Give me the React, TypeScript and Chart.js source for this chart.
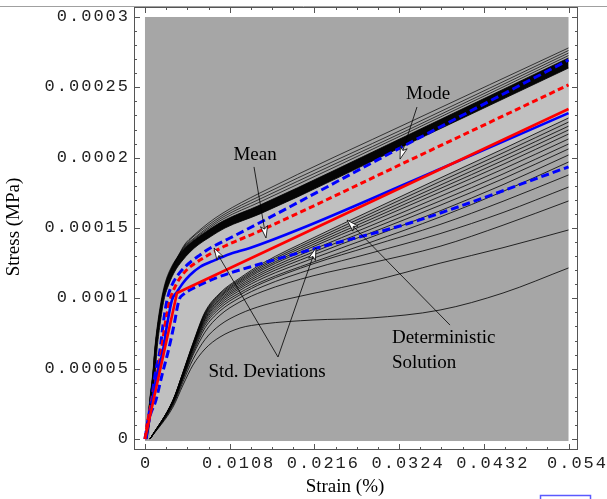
import React, { useEffect, useRef } from "react";
import { Chart, registerables } from "chart.js";

Chart.register(...registerables);

// ---------- axes ----------
const X_MIN = -0.0014;
const X_MAX = 0.05521;
const Y_MIN = -0.0000078;
const Y_MAX = 0.0003071;

const X_TICKS = [0, 0.0108, 0.0216, 0.0324, 0.0432, 0.054];
const X_TICK_LABELS = ["0", "0.0108", "0.0216", "0.0324", "0.0432", "0.054"];
const Y_TICKS = [0, 0.00005, 0.0001, 0.00015, 0.0002, 0.00025, 0.0003];
const Y_TICK_LABELS = ["0", "0.00005", "0.0001", "0.00015", "0.0002", "0.00025", "0.0003"];
const X_MINOR = 3;
const Y_MINOR = 4;
const X_TITLE = "Strain (%)";
const Y_TITLE = "Stress (MPa)";

// ---------- data (strain in 1e-3, stress in 1e-6 MPa) ----------
const DET_STRAIN = [0, 4.08, 54];
const DET_STRESS = [0, 103.8, 234.6];

const MEAN_STRAIN = [0, 0.38, 0.96, 1.53, 2.3, 2.81, 3.44, 4.08, 4.85, 5.74, 7.01, 8.93, 10.84, 13.39, 19.76, 33.79, 54];
const MEAN_STRESS = [0, 8.5, 27.7, 45.5, 63.3, 81.0, 98.8, 104.5, 110.9, 116.6, 122.3, 127.2, 131.5, 135.8, 149.3, 182.7, 231.7];

const MODE_STRAIN = [0, 0.38, 0.89, 1.53, 2.1, 2.55, 3.19, 3.95, 4.85, 5.74, 7.01, 8.29, 10.2, 14.03, 33.79, 54];
const MODE_STRESS = [0, 13.5, 27.7, 45.5, 63.3, 81.0, 98.8, 109.5, 117.3, 122.3, 127.2, 131.5, 137.2, 146.4, 198.3, 251.7];

const SD_UP_STRAIN = [0, 0.38, 0.83, 1.28, 1.91, 2.3, 2.81, 3.44, 4.21, 5.1, 6.12, 7.01, 7.91, 8.93, 10.84, 15.05, 32.52, 54];
const SD_UP_STRESS = [0, 13.5, 27.7, 45.5, 63.3, 81.0, 98.8, 109.5, 116.6, 122.3, 127.2, 130.8, 134.4, 137.6, 142.9, 155.0, 206.9, 269.4];

const SD_LO_STRAIN = [0.13, 0.51, 1.4, 2.17, 3.0, 3.7, 4.34, 4.97, 5.74, 7.01, 8.67, 10.84, 13.39, 15.05, 21.93, 33.79, 54];
const SD_LO_STRESS = [0, 13.5, 27.7, 45.5, 63.3, 81.0, 98.8, 103.1, 105.9, 109.5, 113.7, 118.0, 122.3, 125.1, 135.8, 153.6, 193.4];

// upper (dense) bundle of sample curves
const TOP_STRAIN = [0, 0.38, 0.64, 1.02, 1.28, 1.66, 2.17, 2.68, 3.44, 4.21, 5.1, 6.12, 7.91, 9.95, 14.66, 33.79, 54];
const BUNDLE_TOP = [0, 13.5, 27.7, 45.5, 63.3, 81.0, 98.8, 110.9, 121.6, 129.4, 135.8, 140.8, 147.9, 155.0, 166.3, 216.8, 270.9];
const FRINGE_1 = [0, 14.5, 29.5, 48.0, 66.0, 84.0, 101.5, 113.0, 123.0, 130.1, 138.6, 144.3, 152.8, 160.7, 174.9, 225.4, 278.0];
const FRINGE_2 = [0, 14.0, 28.6, 46.8, 64.6, 82.5, 100.0, 112.0, 122.3, 129.7, 137.9, 143.6, 151.4, 159.2, 172.7, 222.5, 276.2];
const FRINGE_3 = [0, 13.5, 27.7, 45.5, 63.3, 81.0, 98.8, 110.9, 121.6, 129.5, 137.2, 142.2, 150.0, 157.8, 170.6, 220.4, 274.4];
const FRINGE_4 = [0, 13.5, 27.7, 45.5, 63.3, 81.0, 98.8, 110.9, 121.6, 129.4, 136.5, 141.5, 148.9, 156.4, 168.5, 218.6, 272.6];

const BUNDLE_BOT_STRAIN = [0.26, 0.64, 0.89, 1.28, 1.53, 1.91, 2.42, 3.06, 3.83, 4.72, 5.74, 6.76, 8.29, 10.2, 14.66, 33.79, 54];
const BUNDLE_BOT = [0, 13.5, 27.7, 45.5, 63.3, 81.0, 98.8, 110.2, 119.4, 126.5, 132.9, 137.9, 143.6, 150.0, 160.0, 210.4, 263.7];

// lower (spread) sample curves
const LOW_STRAIN = [0.64, 3.57, 4.85, 6.12, 7.65, 9.56, 12.11, 15.05, 21.42, 28.69, 37.62, 45.65, 54];
const LOW_01 = [0, 27.7, 47.6, 68.2, 90.3, 103.8, 114.5, 125.1, 142.9, 162.1, 185.5, 206.2, 228.2];
const LOW_02 = [0, 27.6, 47.4, 67.8, 89.6, 103.0, 113.5, 123.9, 141.3, 160.0, 183.0, 203.4, 225.3];
const LOW_03 = [0, 27.4, 47.1, 67.4, 88.9, 102.1, 112.6, 122.8, 139.8, 158.0, 180.4, 200.7, 222.4];
const LOW_04 = [0, 27.3, 46.9, 66.9, 88.2, 101.3, 111.7, 121.6, 138.2, 156.0, 178.0, 198.0, 219.7];
const LOW_05 = [0, 27.2, 46.6, 66.5, 87.5, 100.5, 110.7, 120.5, 136.7, 154.0, 175.5, 195.2, 216.8];
const LOW_06 = [0, 27.0, 46.3, 66.0, 86.6, 99.4, 109.5, 119.0, 134.7, 151.4, 172.4, 191.9, 213.3];
const LOW_07 = [0, 26.8, 46.0, 65.5, 85.7, 98.4, 108.3, 117.6, 132.8, 148.9, 169.2, 188.4, 209.7];
const LOW_08 = [0, 26.7, 45.7, 65.0, 84.9, 97.3, 107.1, 116.1, 130.8, 146.3, 166.1, 185.0, 206.2];
const LOW_09 = [0, 26.5, 45.3, 64.3, 83.8, 96.0, 105.7, 114.4, 128.4, 143.2, 162.2, 180.8, 201.9];
const LOW_10 = [0, 26.2, 44.9, 63.6, 82.5, 94.6, 104.0, 112.3, 125.7, 139.7, 157.8, 176.0, 196.9];
const LOW_11 = [0, 25.8, 44.1, 62.3, 81.0, 93.0, 102.5, 111.0, 124.5, 137.0, 152.5, 169.0, 187.7];
const LOW_12 = [0, 25.4, 43.4, 61.0, 79.0, 91.0, 100.5, 108.5, 121.0, 132.0, 146.0, 161.0, 179.1];
const LOW_13 = [0, 24.9, 42.5, 59.6, 76.0, 88.0, 97.5, 105.0, 116.0, 125.0, 137.0, 152.0, 169.2];
const LOW_14 = [0, 24.0, 40.7, 56.6, 70.7, 81.0, 89.0, 95.0, 103.5, 112.0, 125.0, 136.0, 148.6];
const LOW_15 = [0, 22.7, 38.4, 52.6, 64.0, 72.5, 78.9, 81.8, 84.6, 86.0, 91.7, 103.8, 121.6];
const LOW_CURVES = [LOW_01, LOW_02, LOW_03, LOW_04, LOW_05, LOW_06, LOW_07, LOW_08, LOW_09, LOW_10, LOW_11, LOW_12, LOW_13, LOW_14, LOW_15];

// ---------- annotations (data coordinates: strain, MPa) ----------
const NOTES = [
  { lines: ["Mean"], x: 0.01403, y: 0.0002019, align: "center" },
  { lines: ["Mode"], x: 0.03609, y: 0.0002449, align: "center" },
  { lines: ["Std. Deviations"], x: 0.01556, y: 0.0000476, align: "center" },
  { lines: ["Deterministic", "Solution"], x: 0.03149, y: 0.0000718, align: "left" },
];
const ARROWS = [
  { from: [0.0139, 0.0001934], to: [0.01543, 0.0001429] },
  { from: [0.03468, 0.000236], to: [0.03252, 0.000199] },
  { from: [0.01696, 0.0000583], to: [0.0088, 0.0001358] },
  { from: [0.01696, 0.0000583], to: [0.0218, 0.0001358] },
  { from: [0.03889, 0.000081], to: [0.02576, 0.0001557] },
];

// ---------- styles ----------
const MID_GRAY = "#a6a6a6";
const LIGHT_GRAY = "#c0c0c0";
const RED = "#ff0000";
const BLUE = "#0000ff";

function pts(xs: number[], ys: number[]) {
  return xs.map((x, i) => ({ x: x * 1e-3, y: ys[i] * 1e-6 }));
}

function lineDs(data: any[], color: string, width: number, dash: number[] = [], extra: any = {}) {
  return {
    data,
    borderColor: color,
    borderWidth: width,
    borderDash: dash,
    pointRadius: 0,
    fill: false,
    cubicInterpolationMode: "monotone",
    ...extra,
  };
}

function drawArrow(ctx: CanvasRenderingContext2D, x0: number, y0: number, x1: number, y1: number) {
  const ang = Math.atan2(y1 - y0, x1 - x0);
  const c = Math.cos(ang), s = Math.sin(ang);
  const L = 12, W = 3.6, N = 9;
  ctx.beginPath();
  ctx.moveTo(x0, y0);
  ctx.lineTo(x1 - N * c, y1 - N * s);
  ctx.strokeStyle = "#000";
  ctx.lineWidth = 0.8;
  ctx.stroke();
  ctx.beginPath();
  ctx.moveTo(x1, y1);
  ctx.lineTo(x1 - L * c - W * s, y1 - L * s + W * c);
  ctx.lineTo(x1 - N * c, y1 - N * s);
  ctx.lineTo(x1 - L * c + W * s, y1 - L * s - W * c);
  ctx.closePath();
  ctx.fillStyle = "#fff";
  ctx.fill();
  ctx.stroke();
}

const framePlugin = {
  id: "mmaFrame",
  beforeDraw(chart: any) {
    const { ctx } = chart;
    const xs = chart.scales.x, ys = chart.scales.y;
    ctx.save();
    ctx.fillStyle = "#fff";
    ctx.fillRect(0, 0, chart.width, chart.height);
    const gx0 = xs.getPixelForValue(X_TICKS[0]);
    const gx1 = xs.getPixelForValue(X_TICKS[X_TICKS.length - 1]);
    const gy0 = ys.getPixelForValue(Y_TICKS[0]) + 2;
    const gy1 = ys.getPixelForValue(Y_TICKS[Y_TICKS.length - 1]);
    ctx.fillStyle = MID_GRAY;
    ctx.fillRect(gx0, gy1, gx1 - gx0, gy0 - gy1);
    ctx.restore();
  },
  afterDraw(chart: any) {
    const { ctx, chartArea: a } = chart;
    const xs = chart.scales.x, ys = chart.scales.y;
    ctx.save();
    // page rule at top
    ctx.strokeStyle = "#a0a0a0";
    ctx.lineWidth = 1;
    ctx.beginPath();
    ctx.moveTo(0, 6.5);
    ctx.lineTo(chart.width, 6.5);
    ctx.stroke();
    // frame
    ctx.strokeStyle = "#555";
    ctx.strokeRect(a.left + 0.5, a.top + 0.5, a.right - a.left - 1, a.bottom - a.top - 1);
    // ticks
    const xt: [number, number][] = [];
    for (let i = 0; i < X_TICKS.length; i++) {
      xt.push([X_TICKS[i], 6]);
      if (i < X_TICKS.length - 1) {
        const step = (X_TICKS[i + 1] - X_TICKS[i]) / (X_MINOR + 1);
        for (let k = 1; k <= X_MINOR; k++) xt.push([X_TICKS[i] + k * step, 3]);
      }
    }
    const yt: [number, number][] = [];
    for (let i = 0; i < Y_TICKS.length; i++) {
      yt.push([Y_TICKS[i], 6]);
      if (i < Y_TICKS.length - 1) {
        const step = (Y_TICKS[i + 1] - Y_TICKS[i]) / (Y_MINOR + 1);
        for (let k = 1; k <= Y_MINOR; k++) yt.push([Y_TICKS[i] + k * step, 3]);
      }
    }
    ctx.beginPath();
    for (const [v, len] of xt) {
      const p = Math.round(xs.getPixelForValue(v)) + 0.5;
      ctx.moveTo(p, a.bottom); ctx.lineTo(p, a.bottom - len);
      ctx.moveTo(p, a.top); ctx.lineTo(p, a.top + len);
    }
    for (const [v, len] of yt) {
      const p = Math.round(ys.getPixelForValue(v)) + 0.5;
      ctx.moveTo(a.left, p); ctx.lineTo(a.left + len, p);
      ctx.moveTo(a.right, p); ctx.lineTo(a.right - len, p);
    }
    ctx.stroke();
    // tick labels
    ctx.fillStyle = "#222";
    ctx.font = '17px "Liberation Mono"';
    (ctx as any).letterSpacing = "2px";
    ctx.textBaseline = "alphabetic";
    ctx.textAlign = "center";
    X_TICKS.forEach((v, i) => {
      const p = xs.getPixelForValue(v) + (i === 0 ? 1 : 9);
      ctx.fillText(X_TICK_LABELS[i], p, a.bottom + 18);
    });
    ctx.textAlign = "right";
    Y_TICKS.forEach((v, i) => {
      const p = ys.getPixelForValue(v);
      ctx.fillText(Y_TICK_LABELS[i], a.left - 4, p + 4);
    });
    (ctx as any).letterSpacing = "0px";
    // axis titles
    ctx.fillStyle = "#000";
    ctx.font = '19px "Liberation Serif"';
    ctx.textAlign = "center";
    ctx.textBaseline = "middle";
    ctx.fillText(X_TITLE, 345, 487);
    ctx.save();
    ctx.translate(14, 227);
    ctx.rotate(-Math.PI / 2);
    ctx.fillText(Y_TITLE, 0, 0);
    ctx.restore();
    // annotations
    for (const ar of ARROWS) {
      drawArrow(
        ctx,
        xs.getPixelForValue(ar.from[0]), ys.getPixelForValue(ar.from[1]),
        xs.getPixelForValue(ar.to[0]), ys.getPixelForValue(ar.to[1])
      );
    }
    ctx.fillStyle = "#000";
    ctx.font = '19px "Liberation Serif"';
    ctx.textBaseline = "middle";
    for (const n of NOTES) {
      ctx.textAlign = n.align as CanvasTextAlign;
      const px = xs.getPixelForValue(n.x);
      const py = ys.getPixelForValue(n.y);
      n.lines.forEach((t, i) => ctx.fillText(t, px, py + i * 25));
    }
    // small blue box at the bottom right
    ctx.strokeStyle = "#5a5aff";
    ctx.lineWidth = 1.5;
    ctx.strokeRect(540.5, 495.5, 50, 12);
    ctx.restore();
  },
};

export default function App() {
  const ref = useRef<HTMLCanvasElement | null>(null);
  useEffect(() => {
    document.body.style.margin = "0";
    document.body.style.overflow = "hidden";
    const lowIndex0 = 11;
    const datasets: any[] = [
      lineDs(pts(DET_STRAIN, DET_STRESS), RED, 2.6, [], { cubicInterpolationMode: "default", tension: 0 }),
      lineDs(pts(MEAN_STRAIN, MEAN_STRESS), BLUE, 2.6),
      lineDs(pts(MODE_STRAIN, MODE_STRESS), RED, 3, [6, 3.5]),
      lineDs(pts(SD_UP_STRAIN, SD_UP_STRESS), BLUE, 3, [8, 4]),
      lineDs(pts(SD_LO_STRAIN, SD_LO_STRESS), BLUE, 3, [8, 4]),
      lineDs(pts(TOP_STRAIN, BUNDLE_TOP), "#000", 0.8, [], { fill: 6, backgroundColor: "#050505" }),
      lineDs(pts(BUNDLE_BOT_STRAIN, BUNDLE_BOT), "#000", 0.8, [], { fill: lowIndex0, backgroundColor: LIGHT_GRAY }),
      lineDs(pts(TOP_STRAIN, FRINGE_1), "#000", 0.7),
      lineDs(pts(TOP_STRAIN, FRINGE_2), "#000", 0.7),
      lineDs(pts(TOP_STRAIN, FRINGE_3), "#000", 0.7),
      lineDs(pts(TOP_STRAIN, FRINGE_4), "#000", 0.7),
      ...LOW_CURVES.map((c) => lineDs(pts(LOW_STRAIN, c), "#000", 0.8)),
    ];
    const chart = new Chart(ref.current as HTMLCanvasElement, {
      type: "line",
      data: { datasets },
      options: {
        animation: false,
        responsive: true,
        maintainAspectRatio: false,
        events: [],
        layout: { padding: { top: 7, right: 29, left: 0, bottom: 0 } },
        plugins: {
          legend: { display: false },
          tooltip: { enabled: false },
          filler: { drawTime: "beforeDatasetsDraw" },
        } as any,
        scales: {
          x: {
            type: "linear",
            min: X_MIN,
            max: X_MAX,
            grid: { display: false },
            border: { display: false },
            ticks: { display: false },
            afterFit: (s: any) => { s.height = 49; },
          },
          y: {
            type: "linear",
            min: Y_MIN,
            max: Y_MAX,
            grid: { display: false },
            border: { display: false },
            ticks: { display: false },
            afterFit: (s: any) => { s.width = 134; },
          },
        },
      } as any,
      plugins: [framePlugin],
    });
    return () => chart.destroy();
  }, []);
  return (
    <div style={{ position: "relative", width: "607px", height: "499px" }}>
      <canvas ref={ref} />
    </div>
  );
}
